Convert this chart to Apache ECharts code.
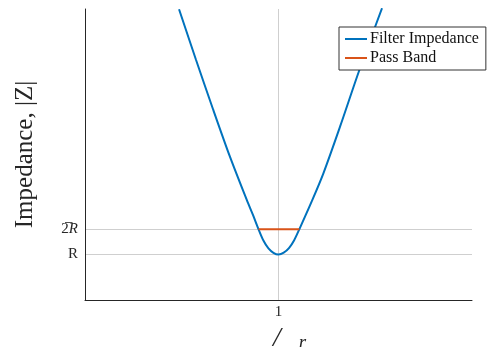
<!DOCTYPE html>
<html><head><meta charset="utf-8">
<script src="https://cdn.jsdelivr.net/npm/echarts@6/dist/echarts.min.js"></script>
<style>html,body{margin:0;padding:0;background:#fff}#c{width:488px;height:347px}</style>
</head><body><div id="c"></div>
<script>
// normalized frequency (omega / omega_r) and |Z| in units of R
const zX = [0.486, 0.574, 0.663, 0.749, 0.836, 0.868, 0.897, 0.922, 0.948, 0.974, 1.0, 1.027, 1.054, 1.081, 1.1075, 1.170, 1.232, 1.318, 1.418, 1.535];
const zY = [5.030, 4.196, 3.375, 2.607, 1.896, 1.650, 1.414, 1.230, 1.100, 1.028, 1.0, 1.030, 1.105, 1.235, 1.414, 1.860, 2.334, 3.100, 4.032, 5.046];
const passBandX = [0.897, 1.1075];
const passBandY = [1.414, 1.414];
const xTicks = [1];
const yTicks = [1, 1.414];
const serif = '"Liberation Serif", "DejaVu Serif", serif';

const chart = echarts.init(document.getElementById('c'), null, {renderer: 'canvas'});
chart.setOption({
  animation: false,
  backgroundColor: '#fff',
  grid: {left: 85, right: 16, top: 9, bottom: 47, outerBoundsMode: 'none', containLabel: false},
  legend: {
    orient: 'vertical', left: 339, top: 27,
    padding: [4, 7, 4, 6], itemGap: 3,
    itemWidth: 22, itemHeight: 2, icon: 'rect',
    borderColor: '#333', borderWidth: 1, borderRadius: 0,
    backgroundColor: '#fff',
    textStyle: {fontFamily: serif, fontSize: 16, color: '#111', lineHeight: 16, padding: [0,0,0,-2]},
    data: ['Filter Impedance', 'Pass Band']
  },
  xAxis: {
    type: 'value', min: 0, max: 2,
    axisLine: {show: true, onZero: false, lineStyle: {color: '#262626', width: 1}},
    axisTick: {show: false, customValues: xTicks},
    axisLabel: {customValues: xTicks, formatter: v => String(v), fontFamily: serif, fontSize: 15, color: '#262626', margin: 5},
    splitLine: {show: true, lineStyle: {color: '#cfcfcf', width: 1}},
    name: '{a|/}{b|r}', nameLocation: 'middle', nameGap: 23,
    nameTextStyle: {
      padding: [0, 0, 0, 22],
      rich: {
        a: {fontFamily: serif, fontSize: 28, fontStyle: 'italic', color: '#262626'},
        b: {fontFamily: serif, fontSize: 19, fontStyle: 'italic', color: '#262626', padding: [8, 0, 0, 18]}
      }
    }
  },
  yAxis: {
    type: 'value', min: 0.252, max: 5.034,
    axisLine: {show: true, onZero: false, lineStyle: {color: '#262626', width: 1}},
    axisTick: {show: false, customValues: yTicks},
    axisLabel: {
      customValues: yTicks, margin: 7,
      formatter: v => v === 1 ? '{n|R}' : '{n|2\u0305}{i|R}',
      rich: {
        n: {fontFamily: serif, fontSize: 15, color: '#262626'},
        i: {fontFamily: serif, fontSize: 15, fontStyle: 'italic', color: '#262626'}
      }
    },
    splitLine: {show: true, lineStyle: {color: '#cfcfcf', width: 1}},
    name: 'Impedance, |Z|', nameLocation: 'middle', nameGap: 47, nameRotate: 90,
    nameTextStyle: {fontFamily: serif, fontSize: 25, color: '#262626'}
  },
  series: [
    {
      name: 'Filter Impedance', type: 'line', smooth: 0.3, showSymbol: false, clip: true,
      color: '#0072BD', lineStyle: {width: 2, color: '#0072BD'},
      data: zX.map((x, i) => [x, zY[i]]), z: 3
    },
    {
      name: 'Pass Band', type: 'line', showSymbol: false,
      color: '#D95319', lineStyle: {width: 2, color: '#D95319'},
      data: passBandX.map((x, i) => [x, passBandY[i]]), z: 4
    }
  ]
});
</script></body></html>
